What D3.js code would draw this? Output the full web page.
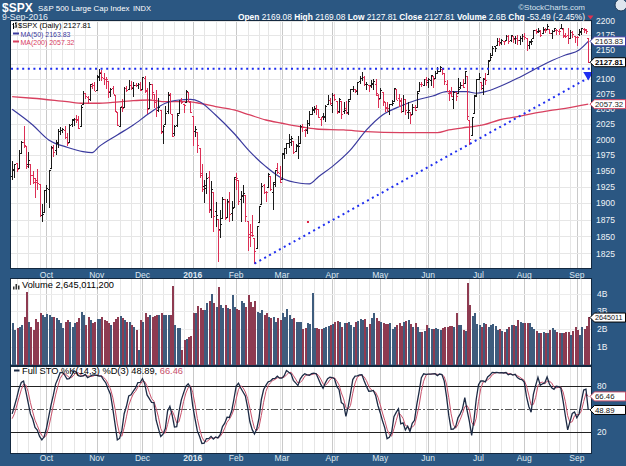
<!DOCTYPE html>
<html><head><meta charset="utf-8">
<script src="https://cdn.jsdelivr.net/npm/d3@7"></script>
<style>
body{margin:0;background:#2b5782;}
svg{display:block;font-family:"Liberation Sans",Arial,sans-serif;}
</style>
</head><body><svg id="c" width="626" height="466"></svg>
<script>
// ---------------- DATA ----------------
// Trading calendar (first 18 sessions, Aug 14 - Sep 9 2015, are only used as indicator look-back)
const startDate = "2015-08-14", endDate = "2016-09-09";
const holidays = ["2015-09-07","2015-11-26","2015-12-25","2016-01-01","2016-01-18","2016-02-15","2016-03-25","2016-05-30","2016-07-04","2016-09-05"];
const lookback = 18;

const opens = [
2083.15,2089.70,2101.99,2095.69,2076.61,2034.08,1965.15,1898.08,1872.75,1942.77,1986.06,1986.73,1970.09,1916.52,1950.79,1947.76,1927.74,1971.45,
1941.59,1951.45,1963.06,1955.10,1978.02,1995.33,1989.66,1960.84,1961.39,1943.24,1932.24,1935.93,1929.18,1881.90,1887.14,
1919.65,1921.77,1954.33,1986.63,1982.34,1994.01,2013.73,2015.65,2015.00,2003.66,1996.47,2024.37,2031.73,2033.13,2033.47,2021.88,2058.19,2075.08,2068.75,2066.48,2088.35,2090.00,
2080.76,2102.63,2110.60,2101.68,2098.60,2096.56,2077.19,2083.41,2072.29,2044.64,2022.08,2053.67,2051.99,2083.70,2082.82,2089.41,2084.42,2089.30,2088.82,2090.95,
2082.93,2101.71,2080.71,2051.24,2090.42,2073.39,2061.17,2047.93,2047.27,2013.37,2025.55,2046.50,2073.76,2040.81,2010.27,2023.15,2042.20,2063.52,2057.77,2060.54,2077.34,2060.59,
2038.20,2013.78,2011.71,1985.32,1945.97,1926.12,1927.83,1940.34,1891.68,1916.68,1888.66,1876.18,1861.46,1877.40,1906.28,1878.79,1902.52,1885.22,1894.00,
1936.94,1935.26,1907.07,1911.67,1913.07,1873.25,1848.46,1857.10,1847.00,1833.40,1871.44,1898.80,1927.57,1916.74,1924.44,1942.38,1917.56,1931.87,1954.95,1947.13,
1937.09,1976.60,1985.60,1994.01,1996.11,1996.88,1981.44,1990.97,1994.71,2019.27,2015.27,2014.24,2026.90,2041.16,2047.88,2048.64,2048.55,2032.48,2037.89,2035.75,2058.27,2063.77,
2056.62,2073.19,2062.50,2045.56,2063.01,2045.54,2050.23,2043.72,2065.92,2082.89,2083.10,2078.83,2096.05,2101.52,2102.09,2091.49,2089.37,2089.84,2092.57,2090.93,2071.82,
2067.17,2077.18,2060.30,2052.95,2046.61,2057.55,2062.63,2083.29,2067.17,2062.50,2046.53,2065.04,2044.38,2044.21,2041.88,2052.23,2052.65,2078.93,2091.44,2090.06,2100.13,
2093.94,2097.71,2104.07,2100.83,2110.18,2112.71,2115.65,2109.57,2091.75,2076.65,2077.60,2066.36,2078.20,2075.58,2085.19,2089.75,2092.80,2103.81,2031.45,2006.67,2042.69,2073.17,
2099.34,2095.05,2084.43,2100.42,2106.97,2131.72,2139.50,2155.81,2157.88,2165.13,2162.04,2163.79,2166.10,2172.91,2166.47,2173.71,2168.97,2169.81,2166.05,2168.83,
2173.15,2169.94,2156.81,2163.51,2168.79,2183.76,2182.24,2182.81,2177.97,2183.74,2186.08,2186.24,2177.84,2181.90,2184.24,2181.58,2187.81,2185.09,2173.29,2175.10,2170.19,2179.45,2173.56,
2171.33,2177.49,2181.61,2185.17,2182.76,2169.08];

const highs = [
2092.45,2102.87,2103.47,2096.17,2076.61,2034.08,1965.15,1948.04,1943.09,1989.60,1993.48,1986.73,1970.09,1948.91,1975.01,1947.76,1970.42,1988.63,
1965.29,1961.05,1963.06,1983.19,1997.26,2020.86,1989.66,1979.64,1961.39,1949.52,1938.88,1952.89,1929.18,1899.48,1920.53,
1927.21,1951.36,1989.17,1991.62,1999.31,2016.50,2020.13,2018.66,2022.34,2009.56,2024.15,2033.54,2034.45,2039.12,2037.97,2055.20,2079.74,2075.14,2070.37,2090.35,2092.52,2094.32,
2106.20,2116.48,2114.59,2108.78,2101.91,2096.56,2083.67,2086.94,2072.29,2044.64,2053.22,2066.69,2085.31,2086.74,2097.06,2095.61,2094.12,2093.00,2093.29,2093.81,
2103.37,2104.27,2085.00,2093.84,2090.42,2073.85,2080.33,2067.65,2047.27,2022.92,2053.87,2076.72,2076.37,2040.81,2022.90,2042.74,2064.73,2067.36,2057.77,2081.56,2077.34,2062.54,
2038.20,2021.94,2011.71,1985.32,1960.40,1935.65,1947.38,1950.33,1934.47,1916.68,1901.44,1876.18,1889.85,1908.85,1906.28,1906.73,1916.99,1902.96,1940.24,
1947.20,1935.26,1918.01,1927.35,1913.07,1873.25,1868.25,1881.60,1847.00,1864.78,1895.77,1930.68,1930.00,1918.78,1946.70,1942.38,1932.08,1951.83,1962.96,1958.27,
1978.35,1986.51,1993.69,2009.13,2006.12,1996.88,1992.69,2005.08,2022.37,2024.57,2015.94,2032.02,2046.24,2052.36,2053.91,2056.60,2048.55,2036.04,2042.67,2055.91,2072.21,2067.92,
2075.07,2074.02,2062.50,2067.33,2063.01,2060.63,2062.93,2065.05,2083.18,2087.84,2083.22,2094.66,2104.05,2111.05,2103.78,2094.32,2089.37,2096.87,2099.89,2099.30,2073.85,
2083.42,2077.18,2060.30,2060.23,2058.35,2064.15,2084.87,2083.29,2073.99,2066.79,2071.88,2065.69,2060.61,2044.21,2058.35,2055.58,2079.67,2094.73,2094.30,2099.06,2103.48,
2100.97,2105.26,2104.07,2113.36,2119.22,2120.55,2117.64,2109.57,2098.12,2081.30,2085.65,2079.62,2078.20,2100.66,2093.66,2099.71,2113.32,2103.81,2031.45,2036.09,2073.13,2098.94,
2108.71,2095.05,2100.72,2109.08,2131.71,2143.16,2155.40,2156.45,2169.05,2169.05,2168.35,2164.63,2175.63,2174.56,2175.11,2173.71,2173.54,2174.98,2173.16,2177.09,
2178.29,2170.20,2163.79,2168.19,2182.87,2185.44,2187.66,2183.41,2188.45,2186.28,2193.81,2186.24,2183.08,2187.03,2185.00,2185.15,2193.42,2186.66,2179.00,2187.94,2183.48,2182.27,2173.79,
2173.56,2184.87,2186.57,2187.87,2184.94,2169.08];

const lows = [
2080.61,2079.30,2094.14,2070.53,2035.66,1970.89,1867.01,1867.08,1872.75,1942.77,1975.19,1965.98,1903.07,1916.52,1944.72,1908.70,1927.74,1937.88,
1937.19,1939.19,1948.27,1954.30,1977.93,1986.73,1953.45,1955.80,1929.22,1930.84,1908.04,1921.50,1879.21,1871.91,1887.14,
1900.70,1893.70,1954.33,1971.99,1976.44,1987.53,2007.61,2010.55,2001.78,1990.73,1996.47,2020.46,2022.31,2026.61,2017.22,2021.88,2058.19,2066.53,2058.84,2063.11,2082.63,2079.34,
2080.76,2097.51,2096.98,2090.41,2083.74,2068.24,2069.91,2074.85,2045.66,2022.02,2019.94,2045.90,2051.99,2078.76,2082.82,2081.39,2070.29,2086.30,2084.13,2080.41,
2082.93,2077.11,2042.35,2051.24,2066.78,2052.32,2036.53,2045.67,2008.80,1993.26,2025.55,2042.43,2041.66,2005.33,2005.93,2020.49,2042.20,2058.73,2044.20,2060.54,2061.97,2043.62,
1989.68,2004.17,1979.05,1938.83,1918.46,1901.10,1914.35,1886.41,1878.93,1857.83,1864.60,1812.29,1848.98,1877.40,1875.97,1878.79,1872.70,1873.65,1894.00,
1920.30,1897.29,1872.23,1900.52,1872.65,1828.46,1834.94,1850.32,1810.10,1833.40,1871.44,1898.80,1915.09,1902.17,1924.44,1919.44,1891.00,1925.41,1945.78,1931.81,
1937.09,1968.80,1977.37,1986.77,1989.38,1977.43,1979.84,1969.25,1994.71,2012.05,2005.23,2010.04,2022.16,2041.16,2043.14,2040.57,2034.86,2022.49,2031.96,2028.31,2058.27,2057.46,
2043.98,2062.57,2042.56,2043.09,2033.80,2041.69,2041.88,2039.74,2065.92,2078.13,2076.31,2073.65,2091.68,2096.32,2088.52,2081.20,2077.52,2085.80,2082.31,2071.62,2052.28,
2066.11,2054.89,2045.55,2045.77,2039.74,2054.31,2062.63,2064.46,2053.13,2043.13,2046.53,2040.82,2034.49,2025.91,2041.88,2047.26,2052.65,2078.93,2087.08,2090.06,2088.66,
2085.10,2088.59,2085.36,2100.83,2110.18,2112.71,2107.73,2089.96,2078.46,2064.10,2069.80,2050.37,2062.84,2075.58,2083.02,2084.36,2092.80,2032.57,1991.68,2006.67,2042.69,2070.00,
2097.90,2080.86,2074.02,2089.39,2106.97,2131.72,2139.50,2146.21,2157.88,2155.79,2159.07,2159.01,2164.89,2159.75,2163.24,2161.95,2160.18,2159.07,2159.07,2163.49,
2166.21,2147.58,2152.14,2159.07,2168.79,2177.85,2178.61,2172.00,2177.97,2179.42,2186.08,2178.14,2168.50,2180.46,2175.13,2175.96,2186.80,2171.25,2169.74,2160.39,2170.19,2170.41,2161.35,
2157.09,2173.59,2175.10,2179.07,2177.49,2127.81];

const closes = [
2091.54,2102.44,2096.92,2079.61,2035.73,1970.89,1893.21,1867.61,1940.51,1987.66,1988.87,1972.18,1913.85,1948.86,1951.13,1921.22,1969.41,1942.04,
1952.29,1961.05,1953.03,1978.09,1995.31,1990.20,1958.03,1966.97,1942.74,1938.76,1932.24,1931.34,1881.77,1884.09,1920.03,
1923.82,1951.36,1987.05,1979.92,1995.83,2013.43,2014.89,2017.46,2003.69,1994.24,2023.86,2033.11,2033.66,2030.77,2018.94,2052.51,2075.15,2071.18,2065.89,2090.35,2089.41,2079.36,
2104.05,2109.79,2102.31,2099.93,2099.20,2078.58,2081.72,2075.00,2045.97,2023.04,2053.19,2050.44,2083.58,2081.24,2089.17,2086.59,2089.14,2088.87,2090.11,2080.41,
2102.63,2079.51,2049.62,2091.69,2077.07,2063.59,2047.62,2052.23,2012.37,2021.94,2043.41,2073.07,2041.89,2005.55,2021.15,2038.97,2064.29,2060.99,2056.50,2078.36,2063.36,2043.94,
2012.66,2016.71,1990.26,1943.09,1922.03,1923.67,1938.68,1890.28,1921.84,1880.33,1881.33,1859.33,1868.99,1906.90,1877.08,1903.63,1882.95,1893.36,1940.24,
1939.38,1903.03,1912.53,1915.45,1880.05,1853.44,1852.21,1851.86,1829.08,1864.78,1895.58,1926.82,1917.83,1917.78,1945.50,1921.27,1929.80,1951.70,1948.05,1932.23,
1978.35,1986.45,1993.40,1999.99,2001.76,1979.26,1989.26,1989.57,2022.19,2019.64,2015.93,2027.22,2040.59,2049.58,2051.60,2049.80,2036.71,2035.94,2037.05,2055.01,2063.95,2059.74,
2072.78,2066.13,2045.17,2066.66,2041.91,2047.60,2041.99,2061.72,2082.42,2082.78,2080.73,2094.34,2100.80,2102.40,2091.48,2091.58,2087.79,2091.70,2095.15,2075.81,2065.30,
2081.43,2063.37,2051.12,2050.63,2057.14,2058.69,2084.39,2064.46,2064.11,2046.61,2066.66,2047.21,2047.63,2040.04,2052.32,2048.04,2076.06,2090.54,2090.10,2099.06,2096.95,
2099.33,2105.26,2099.13,2109.41,2112.13,2119.12,2115.48,2096.07,2079.06,2075.32,2071.50,2077.99,2071.22,2083.25,2088.90,2085.45,2113.32,2037.41,2000.54,2036.09,2070.77,2098.86,
2102.95,2088.55,2099.73,2097.90,2129.90,2137.16,2152.14,2152.43,2163.75,2161.74,2166.89,2163.78,2173.02,2165.17,2175.03,2168.48,2169.18,2166.58,2170.06,2173.60,
2170.84,2157.03,2163.79,2164.25,2182.87,2180.89,2181.74,2175.49,2185.79,2184.05,2190.15,2178.15,2182.22,2187.02,2183.87,2182.64,2186.90,2175.44,2172.47,2169.04,2180.38,2176.12,2170.95,
2170.86,2179.98,2186.48,2186.16,2181.30,2127.81];

// volume, billions of shares (chart period only: Sep 10 2015 - Sep 9 2016)
const volumes = [
2.32,1.94,2.04,2.13,2.2,2.69,4.1,2.41,2.1,1.94, 2.54,2.41,2.88,2.79,2.7,2.85,2.79,2.69,2.66,2.6,
2.51,2.32,2.04,2.41,2.5,2.41,2.13,2.32,2.41,2.6, 2.98,2.79,2.23,2.69,2.5,2.36,2.41,2.54,2.54,2.66,
2.51,2.45,2.36,2.23,2.4,2.54,2.69,2.73,2.6,2.51, 2.41,2.41,2.23,2.1,1.94,0.82,2.51,2.41,2.88,2.7,
2.79,2.69,2.75,2.79,2.79,2.88,2.79,2.79,2.79,2.8, 4.42,2.23,2.04,2.04,0.82,1.38,1.42,1.53,1.6,2.88,
2.88,3.3,3.2,3.07,3.07,3.48,3.6,3.97,3.45,3.26, 4.35,3.35,3.16,3.35,3.2,3.11,3.92,3.26,3.1,3.07,
3.6,3.45,3.26,3.92,3.5,3.26,3.6,2.98,2.9,3.07, 2.79,2.88,2.7,2.6,2.69,2.41,2.6,2.5,2.88,2.69,
3.13,2.79,2.54,2.6,2.41,2.41,2.41,1.98,2.04,2.36, 2.3,4.05,2.04,2.04,1.98,1.98,2.04,2.13,2.17,2.2,
2.26,2.4,2.47,2.41,2.13,2.32,2.35,2.41,2.23,2.13, 2.38,2.47,2.54,2.5,2.54,2.13,2.26,2.6,2.88,2.6,
2.47,2.41,2.32,2.3,2.26,2.32,1.98,2.13,2.25,2.36, 2.17,2.41,2.45,2.51,2.26,2.13,2.32,2.13,1.85,1.85,
1.9,2.23,2.04,1.98,2.0,2.04,1.98,1.94,2.04,2.1, 2.13,2.19,2.17,2.13,2.92,2.2,2.23,1.94,1.91,4.57,
3.35,2.73,2.88,2.3,2.23,2.13,2.36,2.26,2.13,2.2, 2.26,2.17,1.94,1.98,1.9,1.85,1.98,2.09,2.23,2.2,
2.17,2.51,2.41,2.35,2.32,2.36,2.36,2.13,2.0,1.91, 1.79,1.76,1.85,1.8,1.76,1.94,2.04,1.94,1.85,1.76,
1.79,1.79,1.85,1.85,1.66,1.9,2.13,1.94,1.66,2.09, 2.0,2.17,2.65];

// moving averages (session index in chart period, value)
const ma50Idx = [0,9,16,24,31,35,38,46,53,60,67,73,78,82,89,97,104,111,118,126,130,134,140,148,155,162,170,177,184,190,199,203,207,213,221,228,235,242,248,252];
const ma50Val = [2048.9,2023.2,1999.0,1987.3,1980.3,1978.7,1988.3,2007.0,2023.2,2042.3,2058.8,2064.2,2065.4,2061.4,2039.5,2009.8,1980.3,1956.6,1938.4,1930.7,1929.6,1940.9,1956.6,1983.0,2015.1,2039.5,2054.3,2064.2,2070.9,2078.1,2078.1,2075.4,2078.1,2086.4,2100.5,2114.6,2128.7,2140.2,2148.8,2163.83];
const ma200Idx = [0,9,24,31,38,53,60,67,76,82,89,97,104,111,118,126,133,145,155,170,186,191,199,206,213,221,228,235,242,252];
const ma200Val = [2069.7,2067.1,2061.4,2058.8,2058.8,2063.1,2064.2,2061.4,2061.4,2058.8,2053.2,2047.7,2039.5,2031.3,2026.0,2020.4,2016.7,2015.1,2012.3,2010.7,2010.7,2015.1,2019.5,2023.2,2031.3,2036.7,2042.3,2046.6,2050.5,2057.32];

// annotations: resistance level, support trendline (idx, price), marker dot
const resistance = 2116.5;
const trendIdx = [106, 252];
const trendVal = [1810.1, 2101];
const markerIdx = [129.4], markerVal = [1871.5];

const priceTicks = [1825,1850,1875,1900,1925,1950,1975,2000,2025,2050,2075,2100,2125,2150,2175,2200];
const priceTickLabels = [1825,1850,1875,1900,1925,1950,1975,2000,2025,2050,2075,2100,2150,2175,2200];
const volTicks = [1,2,3,4];
const volTickLabels = ["1B","2B","3B","4B"];
const stoTicks = [20,80];

// ---------------- LAYOUT ----------------
const L = 11, R = 591;
const P = {top:21, bot:268};
const V = {top:278.5, bot:364.5};
const S = {top:366.5, bot:453};
const UP = "#1a1a1a", DOWN = "#dc2f55";

const svg = d3.select("#c");
const parse = d3.timeParse("%Y-%m-%d"), fmt = d3.timeFormat("%Y-%m-%d");
const hol = new Set(holidays);
const allDays = d3.timeDay.range(parse(startDate), d3.timeDay.offset(parse(endDate),1))
  .filter(d => d.getDay()%6 !== 0 && !hol.has(fmt(d)));
const days = allDays.slice(lookback);
const N = days.length;

const x = d3.scaleLinear().domain([-0.5, N + 0.2]).range([L, R]);
const y = d3.scaleLog().domain([1825, 2200]).range([253.3, 20.7]);
const yv = d3.scaleLinear().domain([0, 1]).range([V.bot, V.bot - 17.75]);
const ys = d3.scaleLinear().domain([0, 100]).range([447.7, 370.5]);

// full stochastics (14,3,3)
const rawK = closes.map((c,i) => {
  if (i < 13) return null;
  const hh = d3.max(highs.slice(i-13,i+1)), ll = d3.min(lows.slice(i-13,i+1));
  return 100*(c-ll)/(hh-ll);
});
const fullK = rawK.map((v,i) => i < 15 ? null : d3.mean(rawK.slice(i-2,i+1)));
const fullD = fullK.map((v,i) => i < 17 ? null : d3.mean(fullK.slice(i-2,i+1)));

// background
svg.append("rect").attr("width",626).attr("height",466).attr("fill","#2b5782");

// panels
[[P.top,P.bot],[V.top,V.bot],[S.top,S.bot]].forEach(([t,b]) => {
  svg.append("rect").attr("x",L).attr("y",t).attr("width",R-L).attr("height",b-t)
    .attr("fill","#ffffff");
});

// vertical gridlines: weeks and months
const weekStarts = [], monthStarts = [];
days.forEach((d,i) => {
  if (i === 0) return;
  const p = days[i-1];
  if (d3.timeMonday.floor(d) > p) weekStarts.push(i);
  if (d.getMonth() !== p.getMonth()) monthStarts.push(i);
});
const grid = svg.append("g").attr("shape-rendering","crispEdges");
[[P.top,P.bot],[V.top,V.bot],[S.top,S.bot]].forEach(([t,b]) => {
  weekStarts.forEach(i => grid.append("line").attr("x1",Math.round(x(i))+0.5).attr("x2",Math.round(x(i))+0.5)
    .attr("y1",t).attr("y2",b).attr("stroke","#e6e6e6"));
  monthStarts.forEach(i => grid.append("line").attr("x1",Math.round(x(i))+0.5).attr("x2",Math.round(x(i))+0.5)
    .attr("y1",t).attr("y2",b).attr("stroke","#c9c9c9"));
});
priceTicks.forEach(t => grid.append("line").attr("x1",L).attr("x2",R)
  .attr("y1",Math.round(y(t))+0.5).attr("y2",Math.round(y(t))+0.5).attr("stroke","#e6e6e6"));
volTicks.forEach(t => grid.append("line").attr("x1",L).attr("x2",R)
  .attr("y1",Math.round(yv(t))+0.5).attr("y2",Math.round(yv(t))+0.5).attr("stroke","#ececec"));

// ---- price panel ----
svg.append("clipPath").attr("id","cp").append("rect")
  .attr("x",L).attr("y",P.top).attr("width",R-L).attr("height",P.bot-P.top);
const gp = svg.append("g").attr("clip-path","url(#cp)");

// moving averages
const line = d3.line().curve(d3.curveMonotoneX);
gp.append("path").attr("d", line(ma200Idx.map((k,j)=>[x(k), y(ma200Val[j])])))
  .attr("fill","none").attr("stroke","#d8405f").attr("stroke-width",1.3);
gp.append("path").attr("d", line(ma50Idx.map((k,j)=>[x(k), y(ma50Val[j])])))
  .attr("fill","none").attr("stroke","#3a3a9e").attr("stroke-width",1.2);

// OHLC bars
const bars = gp.append("g").attr("shape-rendering","crispEdges");
for (let i = 0; i < N; i++) {
  const k = i + lookback;
  const col = closes[k] >= closes[k-1] ? UP : DOWN;
  const xi = Math.round(x(i)) + 0.5;
  bars.append("line").attr("x1",xi).attr("x2",xi).attr("y1",y(highs[k])).attr("y2",y(lows[k])+0.5).attr("stroke",col);
  bars.append("line").attr("x1",xi-1.5).attr("x2",xi).attr("y1",Math.round(y(opens[k]))+0.5).attr("y2",Math.round(y(opens[k]))+0.5).attr("stroke",col);
  bars.append("line").attr("x1",xi).attr("x2",xi+1.5).attr("y1",Math.round(y(closes[k]))+0.5).attr("y2",Math.round(y(closes[k]))+0.5).attr("stroke",col);
}

// resistance & trendline (dotted blue)
gp.append("line").attr("x1",L).attr("x2",R).attr("y1",y(resistance)).attr("y2",y(resistance))
  .attr("stroke","#1f2ef0").attr("stroke-width",2).attr("stroke-dasharray","2,3.6");
gp.append("line").attr("x1",x(trendIdx[0])).attr("y1",y(trendVal[0])).attr("x2",x(trendIdx[1])).attr("y2",y(trendVal[1]))
  .attr("stroke","#1f2ef0").attr("stroke-width",2).attr("stroke-dasharray","2,3.6");
markerIdx.forEach((k,j)=> gp.append("rect").attr("x",x(k)-1).attr("y",y(markerVal[j])-1).attr("width",2).attr("height",2).attr("fill","#e02040"));

// triangle at end of trend line
const tx = x(trendIdx[1]), ty = y(trendVal[1]);
svg.append("path").attr("d",`M${tx-5},${ty-6}L${tx+5},${ty-6}L${tx},${ty+2.5}Z`).attr("fill","#1f2ef0");

// legend price
const lg = svg.append("g");
lg.append("path").attr("d","M13.5,23V29M12.5,24.5H13.5M13.5,27H14.5M16,22V28M15,23.5H16M16,26H17").attr("stroke","#000").attr("fill","none");
lg.append("text").attr("x",18).attr("y",28.3).attr("fill","#000").attr("font-size",8)
  .attr("textLength",73).attr("lengthAdjust","spacingAndGlyphs").text("$SPX (Daily) 2127.81");
lg.append("line").attr("x1",13).attr("x2",19).attr("y1",33.5).attr("y2",33.5).attr("stroke","#3a3a9e").attr("stroke-width",2);
lg.append("text").attr("x",20.5).attr("y",36.5).attr("fill","#3a3a9e").attr("font-size",7.2)
  .attr("textLength",50).attr("lengthAdjust","spacingAndGlyphs").text("MA(50) 2163.83");
lg.append("line").attr("x1",13).attr("x2",19).attr("y1",41.5).attr("y2",41.5).attr("stroke","#d8405f").attr("stroke-width",2);
lg.append("text").attr("x",20.5).attr("y",44.5).attr("fill","#d8405f").attr("font-size",7.2)
  .attr("textLength",54).attr("lengthAdjust","spacingAndGlyphs").text("MA(200) 2057.32");

// ---- volume panel ----
const gv = svg.append("g").attr("shape-rendering","crispEdges");
for (let i = 0; i < N; i++) {
  const k = i + lookback;
  const down = closes[k] < closes[k-1];
  const xi = Math.round(x(i));
  gv.append("rect").attr("x",xi-0.5).attr("y",yv(volumes[i])).attr("width",2)
    .attr("height",V.bot - yv(volumes[i]))
    .attr("fill", down ? "#8e3b51" : "#3e5c7d");
}
svg.append("path").attr("d","M13,286.5h1.5v3h-1.5zM15.5,284h1.5v5.5h-1.5zM18,285.5h1.5v4h-1.5z").attr("fill","#333");
svg.append("text").attr("x",22).attr("y",287.5).attr("font-size",9).attr("fill","#000")
  .attr("textLength",92).attr("lengthAdjust","spacingAndGlyphs").text("Volume 2,645,011,200");

// ---- STO panel ----
const gs = svg.append("g");
gs.append("line").attr("x1",L).attr("x2",R).attr("y1",Math.round(ys(50))+0.5).attr("y2",Math.round(ys(50))+0.5)
  .attr("stroke","#555").attr("stroke-dasharray","7,2,2,2");
stoTicks.forEach(t => gs.append("line").attr("x1",L).attr("x2",R).attr("y1",Math.round(ys(t))+0.5).attr("y2",Math.round(ys(t))+0.5)
  .attr("stroke","#222").attr("shape-rendering","crispEdges"));
const sl = d3.line();
gs.append("path").attr("d", sl(days.map((d,i)=>[x(i), ys(fullD[i+lookback])])))
  .attr("fill","none").attr("stroke","#c8506a").attr("stroke-width",1);
gs.append("path").attr("d", sl(days.map((d,i)=>[x(i), ys(fullK[i+lookback])])))
  .attr("fill","none").attr("stroke","#1c2a44").attr("stroke-width",1.3);
svg.append("line").attr("x1",14).attr("x2",19.5).attr("y1",370.5).attr("y2",370.5).attr("stroke","#1c2a44").attr("stroke-width",2);
const stx = svg.append("text").attr("x",22).attr("y",373.5).attr("font-size",9.2).attr("fill","#000")
  .attr("textLength",161).attr("lengthAdjust","spacingAndGlyphs");
stx.append("tspan").text("Full STO %K(14,3) %D(3) 48.89, ");
stx.append("tspan").attr("fill","#c8506a").text("66.46");

// panel borders
[[P.top,P.bot],[V.top,V.bot],[S.top,S.bot]].forEach(([t,b]) => {
  svg.append("rect").attr("x",L-0.5).attr("y",t-0.5).attr("width",R-L+1).attr("height",b-t+1)
    .attr("fill","none").attr("stroke","#13283f").attr("shape-rendering","crispEdges");
});

// ---- axes ----
const axTxt = "#f0f4f8";
const ay = svg.append("g").attr("transform",`translate(${R},0)`)
  .call(d3.axisRight(y).tickValues(priceTickLabels).tickFormat(d3.format("d")).tickSize(0).tickPadding(5));
const av = svg.append("g").attr("transform",`translate(${R},0)`)
  .call(d3.axisRight(yv).tickValues(volTicks).tickFormat((d,i)=>volTickLabels[i]).tickSize(0).tickPadding(6));
const as = svg.append("g").attr("transform",`translate(${R},0)`)
  .call(d3.axisRight(ys).tickValues(stoTicks).tickSize(0).tickPadding(6));
[ay,av,as].forEach(g => { g.select(".domain").remove(); g.selectAll("text").attr("fill",axTxt).attr("font-size",8.5).attr("font-family","Liberation Sans, Arial, sans-serif"); });

// month labels (two strips)
const mfmt = d => d.getMonth() === 0 ? d3.timeFormat("%Y")(d) : d3.timeFormat("%b")(d);
[277.5, 461].forEach(yy => {
  monthStarts.forEach(i => svg.append("text").attr("x",x(i)).attr("y",yy).attr("text-anchor","middle")
    .attr("font-size",8.5).attr("fill","#dfe7ef").attr("font-weight", days[i].getMonth()===0 ? "bold":"normal")
    .text(mfmt(days[i])));
});

// value tags on the right
function tag(yy, txt, stroke, bold, color, fs){
  const g = svg.append("g");
  g.append("path").attr("d",`M${R-1},${yy}L${R+3.5},${yy-4.5}H625.5V${yy+4.5}H${R+3.5}Z`)
    .attr("fill","#fff").attr("stroke",stroke).attr("stroke-width",1);
  g.append("text").attr("x",R+4).attr("y",yy+2.8).attr("font-size",fs||7.8).attr("fill",color||"#111")
    .attr("font-weight",bold?"bold":"normal").text(txt);
}
tag(y(2163.83), "2163.83", "#3a3a9e", false, "#222");
tag(y(2057.32), "2057.32", "#d8405f", false, "#222");
tag(y(2127.81), "2127.81", "#000", true, "#000");
tag(yv(2.645), "2645011", "#000", false, "#111", 7.2);
tag(ys(66.46), "66.46", "#c8506a", false, "#222");
tag(ys(48.89), "48.89", "#000", false, "#111");

// ---- header ----
const hd = svg.append("g").attr("fill","#ffffff");
hd.append("text").attr("x",2).attr("y",11.5).attr("font-size",12).attr("font-weight","bold").text("$SPX");
hd.append("text").attr("x",38).attr("y",11).attr("font-size",7.9).text("S&P 500 Large Cap Index");
hd.append("text").attr("x",133).attr("y",11).attr("font-size",7.5).text("INDX");
hd.append("text").attr("x",2).attr("y",19.5).attr("font-size",8.8).attr("fill","#e6edf4").text("9-Sep-2016");
hd.append("text").attr("x",585).attr("y",10).attr("font-size",8).attr("text-anchor","end").attr("fill","#d8e2ec").text("\u00A9StockCharts.com");
const ol = hd.append("text").attr("x",238).attr("y",19.5).attr("font-size",8.4)
  .attr("textLength",347).attr("lengthAdjust","spacingAndGlyphs");
const parts = [["Open","2169.08"],["High","2169.08"],["Low","2127.81"],["Close","2127.81"],["Volume","2.6B"],["Chg","-53.49 (-2.45%)"]];
parts.forEach(([a,b],j)=>{
  ol.append("tspan").attr("font-weight","bold").text(a+" ");
  ol.append("tspan").text(b + (j < parts.length-1 ? "  " : ""));
});
svg.append("path").attr("d","M587.5,15.5h6l-3,4z").attr("fill","#e0304f");
svg.append("circle").attr("cx",621).attr("cy",5).attr("r",6).attr("fill","#dfe6ee").attr("stroke","#1d3a58");
</script>
</body></html>
